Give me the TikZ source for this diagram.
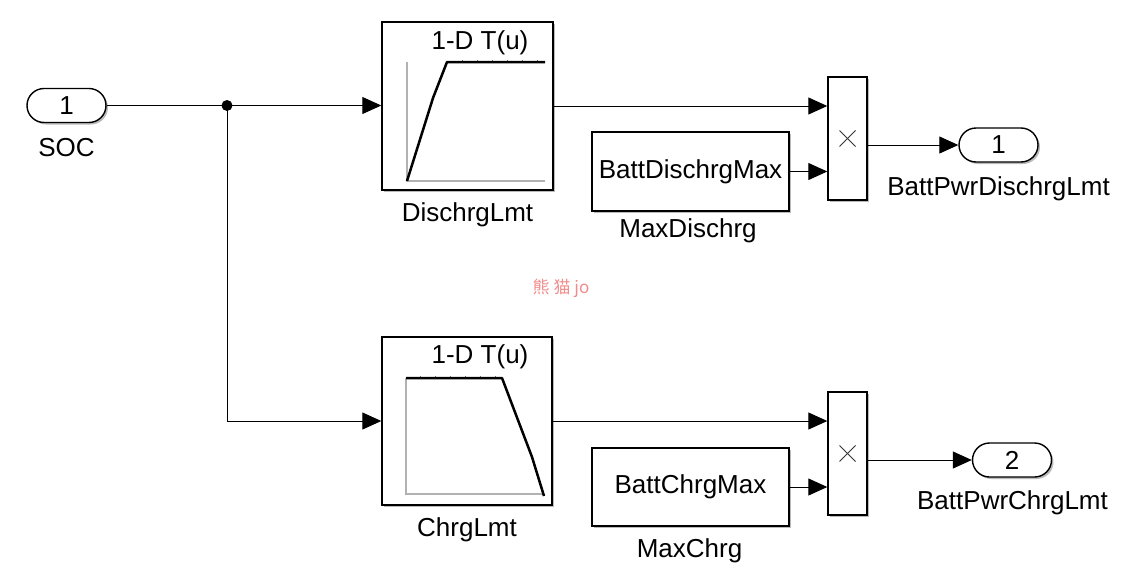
\documentclass[tikz,border=0pt]{standalone}
\usepackage{fontspec}
\setmainfont{Liberation Sans}
\newfontfamily\cjkfont{Noto Sans CJK SC}
\usetikzlibrary{arrows.meta,shadows,calc}
\definecolor{wmpink}{RGB}{240,140,140}
\begin{document}
\begin{tikzpicture}[x=1pt,y=-1pt,
  font=\fontsize{26}{30}\selectfont,
  blk/.style={draw, line width=1.4pt, fill=white, inner sep=0pt,
    drop shadow={shadow xshift=2pt, shadow yshift=-2pt, fill=black!45, opacity=0.6}},
  port/.style={blk, rounded corners=17pt, minimum width=79pt, minimum height=34pt},
  sig/.style={line width=1pt},
  arr/.style={sig, -{Triangle[length=19pt,width=17pt]}},
  lbl/.style={anchor=base, inner sep=0pt},
  axisline/.style={line width=2.5pt, black!30},
  curve/.style={line width=2.5pt, black, line join=round},
  times/.style={line width=0.8pt, black!80},
  ticks/.style={line width=0.7pt, black!60, dash pattern=on 1.2pt off 13.8pt}
]
\useasboundingbox (0,0) rectangle (1123,578);

% watermark
\node[font=\cjkfont\fontsize{17}{20}\selectfont, text=wmpink] (wm) at (561,288) {熊 猫 jo};

% inport
\node[port] (in1) at (66.5,105.5) {1};
\node[lbl] (soc) at (66.5,156) {SOC};
\coordinate (j) at (227,105.5);

% upper lookup
\node[blk, minimum width=171pt, minimum height=168pt] (dl) at (467.5,106) {};
\node[lbl] (dlt) at (480,49) {1-D T(u)};
\node[lbl] (dll) at (467.5,221) {DischrgLmt};
\draw[axisline] (407,62) -- (407,181) -- (545,181);
\draw[curve] (407,181) -- (433,98) -- (447,62) -- (545,62);
\draw[ticks] (462,60) -- (545,60);

% upper constant
\node[blk, minimum width=197pt, minimum height=79pt] (c1) at (690.5,171.5) {BattDischrgMax};
\node[lbl] (c1l) at (688,237) {MaxDischrg};

% upper product
\node[blk, minimum width=39pt, minimum height=123pt] (p1) at (847.5,138.5) {};
\draw[times] ($(p1.center)+(-8,-8)$) -- ($(p1.center)+(8,8)$);
\draw[times] ($(p1.center)+(-8,8)$) -- ($(p1.center)+(8,-8)$);

% outport 1
\node[port] (o1) at (998.5,145) {1};
\node[lbl] (o1l) at (998.5,195) {BattPwrDischrgLmt};

% lower lookup
\node[blk, minimum width=170pt, minimum height=168pt] (cl) at (467,421) {};
\node[lbl] (clt) at (480,363) {1-D T(u)};
\node[lbl] (cll) at (467,536) {ChrgLmt};
\draw[axisline] (406,378) -- (406,494) -- (543,494);
\draw[curve] (406,378) -- (502,378) -- (532,457) -- (544,496);
\draw[ticks] (420,376.5) -- (500,376.5);

% lower constant
\node[blk, minimum width=197pt, minimum height=78pt] (c2) at (690.5,487) {BattChrgMax};
\node[lbl] (c2l) at (689.5,557) {MaxChrg};

% lower product
\node[blk, minimum width=39pt, minimum height=123pt] (p2) at (847.5,453.5) {};
\draw[times] ($(p2.center)+(-8,-8)$) -- ($(p2.center)+(8,8)$);
\draw[times] ($(p2.center)+(-8,8)$) -- ($(p2.center)+(8,-8)$);

% outport 2
\node[port] (o2) at (1012,460) {2};
\node[lbl] (o2l) at (1012.5,509) {BattPwrChrgLmt};

% connectors
\draw[sig] (in1.east) -- (j);
\fill (j) circle (5.5pt);
\draw[arr] (j) -- (j -| dl.west);
\draw[arr] (j) |- (cl.west);
\draw[arr] (dl.east) -- (dl.east -| p1.west);
\draw[arr] (c1.east) -- (c1.east -| p1.west);
\draw[arr] (p1.east |- o1.west) -- (o1.west);
\draw[arr] (cl.east) -- (cl.east -| p2.west);
\draw[arr] (c2.east) -- (c2.east -| p2.west);
\draw[arr] (p2.east |- o2.west) -- (o2.west);
\end{tikzpicture}
\end{document}
